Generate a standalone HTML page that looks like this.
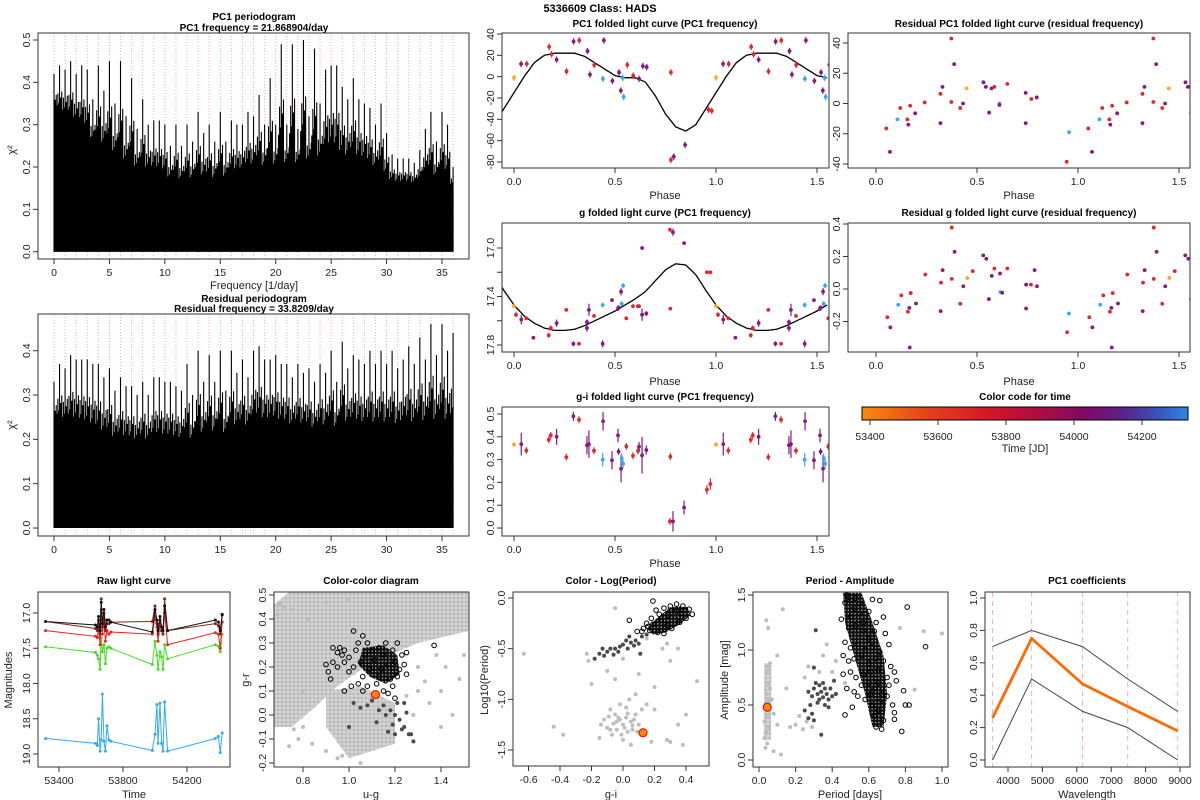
<!DOCTYPE html>
<html><head><meta charset="utf-8"><title>5336609 Class: HADS</title>
<style>
html,body{margin:0;padding:0;background:#fff;}
svg{display:block;font-family:"Liberation Sans",Arial,sans-serif;}
.t{font-weight:bold;font-size:10px;text-anchor:middle;fill:#000;}
.lab{font-size:11px;text-anchor:middle;fill:#222;}
.tk{font-size:10.5px;fill:#222;}
</style></head>
<body>
<svg id="chart" width="1200" height="800" viewBox="0 0 1200 800" xmlns="http://www.w3.org/2000/svg">
<defs>
<linearGradient id="tgrad" x1="0" x2="1" y1="0" y2="0">
<stop offset="0" stop-color="#f88a0c"/><stop offset="0.2" stop-color="#e5421a"/><stop offset="0.4" stop-color="#d21529"/>
<stop offset="0.55" stop-color="#ad0c45"/><stop offset="0.68" stop-color="#800a60"/><stop offset="0.8" stop-color="#5a2288"/>
<stop offset="0.9" stop-color="#3a50b8"/><stop offset="1" stop-color="#2a88e6"/>
</linearGradient>
<pattern id="grayDots" width="4" height="4" patternUnits="userSpaceOnUse"><rect width="4" height="4" fill="#d6d6d6"/><circle cx="2" cy="2" r="1.5" fill="#bababa"/></pattern>
<pattern id="blackCircles" width="3.4" height="3.4" patternUnits="userSpaceOnUse"><rect width="3.4" height="3.4" fill="#111"/><circle cx="1.7" cy="1.7" r="0.6" fill="#fff"/></pattern>
</defs>
<text x="600" y="12" class="t" style="font-size:11px">5336609    Class: HADS</text>
<text x="254" y="20" class="t">PC1 periodogram</text>
<text x="254" y="31" class="t">PC1 frequency = 21.868904/day</text>
<text x="254" y="289" class="lab">Frequency [1/day]</text>
<text x="15" y="150" class="lab" transform="rotate(-90 15 150)">χ²</text>
<text x="254" y="302" class="t">Residual periodogram</text>
<text x="254" y="312" class="t">Residual frequency = 33.8209/day</text>
<text x="15" y="425" class="lab" transform="rotate(-90 15 425)">χ²</text>
<text x="665" y="27" class="t">PC1 folded light curve (PC1 frequency)</text>
<text x="665" y="199" class="lab">Phase</text>
<text x="1019" y="27" class="t">Residual PC1 folded light curve (residual frequency)</text>
<text x="1019" y="199" class="lab">Phase</text>
<text x="665" y="216" class="t">g folded light curve (PC1 frequency)</text>
<text x="665" y="385" class="lab">Phase</text>
<text x="1019" y="216" class="t">Residual g folded light curve (residual frequency)</text>
<text x="1019" y="385" class="lab">Phase</text>
<text x="665" y="400" class="t">g-i folded light curve (PC1 frequency)</text>
<text x="665" y="567" class="lab">Phase</text>
<text x="1025" y="400" class="t">Color code for time</text>
<text x="1025" y="452" class="lab">Time [JD]</text>
<rect x="862" y="407" width="326" height="13" fill="url(#tgrad)" stroke="#000" stroke-width="1"/>
<text x="134" y="584" class="t">Raw light curve</text>
<text x="134" y="798" class="lab">Time</text>
<text x="12" y="680" class="lab" transform="rotate(-90 12 680)">Magnitudes</text>
<text x="371" y="584" class="t">Color-color diagram</text>
<text x="371" y="798" class="lab">u-g</text>
<text x="249" y="680" class="lab" transform="rotate(-90 249 680)">g-r</text>
<text x="611" y="584" class="t">Color - Log(Period)</text>
<text x="611" y="798" class="lab">g-i</text>
<text x="488" y="680" class="lab" transform="rotate(-90 488 680)">Log10(Period)</text>
<text x="850" y="584" class="t">Period - Amplitude</text>
<text x="850" y="798" class="lab">Period [days]</text>
<text x="728" y="680" class="lab" transform="rotate(-90 728 680)">Amplitude [mag]</text>
<text x="1087" y="584" class="t">PC1 coefficients</text>
<text x="1087" y="798" class="lab">Wavelength</text>
</svg>
<script>
// ---------- data ----------
const pc1PeakFreqStep = 0.5;
const pc1Peaks = [0.42,0.44,0.43,0.45,0.42,0.44,0.43,0.36,0.44,0.38,0.45,0.35,0.45,0.32,0.41,0.29,0.36,0.30,0.31,0.31,0.30,0.25,0.30,0.25,0.30,0.26,0.33,0.28,0.30,0.26,0.33,0.26,0.31,0.30,0.30,0.33,0.32,0.37,0.30,0.41,0.30,0.49,0.30,0.49,0.29,0.50,0.32,0.48,0.35,0.43,0.44,0.44,0.39,0.36,0.41,0.36,0.35,0.34,0.30,0.35,0.28,0.23,0.22,0.22,0.22,0.21,0.24,0.29,0.33,0.26,0.33,0.30,0.20];
const pc1Floor = [0.30,0.26,0.20,0.17,0.15,0.14,0.13,0.13,0.14,0.15,0.16,0.17,0.16,0.16,0.16,0.14,0.14,0.14,0.14];
const resPeaks = [0.33,0.37,0.36,0.39,0.38,0.38,0.38,0.37,0.37,0.34,0.36,0.31,0.34,0.32,0.32,0.30,0.33,0.30,0.34,0.34,0.33,0.33,0.32,0.31,0.37,0.30,0.40,0.33,0.39,0.33,0.40,0.31,0.40,0.35,0.38,0.34,0.40,0.41,0.38,0.38,0.39,0.37,0.37,0.34,0.37,0.35,0.36,0.33,0.37,0.35,0.40,0.33,0.42,0.36,0.39,0.38,0.37,0.40,0.37,0.40,0.37,0.40,0.36,0.38,0.41,0.37,0.43,0.38,0.46,0.39,0.46,0.40,0.44];
const resFloor = [0.20,0.18,0.16,0.15,0.15,0.15,0.15,0.16,0.17,0.18,0.18,0.18,0.17,0.18,0.17,0.17,0.17,0.17,0.16];
const freqTicks = [0,5,10,15,20,25,30,35];
const chiTicks1 = [0,0.1,0.2,0.3,0.4,0.5];
const chiTicks2 = [0,0.1,0.2,0.3,0.4];

const phaseTicks = [0,0.5,1.0,1.5];
const pc1Curve = [-15,0,13,20,22,22,22,19,13,7,1,-1,-1,-5,-18,-35,-47,-51,-45,-30,-15];
const pc1Phase = [0,0.035,0.063,0.174,0.186,0.211,0.26,0.295,0.323,0.364,0.376,0.397,0.44,0.445,0.487,0.52,0.529,0.538,0.543,0.561,0.59,0.619,0.638,0.657,0.777,0.777,0.791,0.847,0.963,0.979];
const pc1Val = [-1,12,12,28,21,16,5,33,34,24,2,11,-2,34,-4,4,-13,-1,-19,11,1,-2,10,9,4,-78,-75,-64,-31,-32];
const pc1Col = ['o','p','r','r','r','p','r','p','r','p','p','r','b','p','p','p','p','b','b','r','r','p','p','p','r','r','p','p','r','r'];
const pc1Ticks = [-80,-60,-40,-20,0,20,40];

const rpPhase = [0.051,0.069,0.106,0.12,0.155,0.16,0.169,0.194,0.241,0.319,0.319,0.329,0.373,0.373,0.387,0.417,0.431,0.449,0.532,0.544,0.56,0.572,0.586,0.611,0.611,0.65,0.741,0.741,0.769,0.796,0.944,0.956];
const rpVal = [-16.5,-32,-10.5,-3,-10.5,-14,-1.5,-6.5,0.7,6.4,-13,11,43,1,26,-3,0,10,14,11,-6,10,11,0,-1,13,7,-13,3,4,-38.5,-19];
const rpCol = ['r','p','b','r','r','p','r','p','r','r','p','p','r','r','p','r','p','o','p','p','p','p','r','b','p','r','p','p','r','p','r','b'];
const rpTicks = [-40,-20,0,20,40];

const gCurve = [17.47,17.56,17.62,17.66,17.68,17.68,17.67,17.64,17.6,17.56,17.52,17.47,17.42,17.36,17.27,17.18,17.13,17.14,17.22,17.35,17.47];
const gPhase = [0,0.01,0.036,0.061,0.096,0.172,0.182,0.211,0.259,0.294,0.322,0.361,0.361,0.371,0.396,0.439,0.439,0.485,0.515,0.518,0.53,0.533,0.54,0.556,0.589,0.614,0.619,0.634,0.634,0.655,0.774,0.772,0.787,0.842,0.955,0.972];
const gMag = [17.48,17.55,17.59,17.58,17.74,17.72,17.66,17.62,17.51,17.79,17.79,17.61,17.66,17.51,17.56,17.47,17.79,17.43,17.5,17.49,17.36,17.46,17.31,17.58,17.48,17.48,17.48,17.0,17.55,17.54,17.5,16.85,16.87,16.96,17.2,17.2];
const gErr = [0.01,0.02,0.04,0.01,0.01,0.02,0.02,0.03,0.01,0.02,0.01,0.02,0.03,0.05,0.01,0.02,0.03,0.01,0.02,0.01,0.03,0.02,0.02,0.01,0.01,0.01,0.01,0.01,0.05,0.02,0.01,0.01,0.03,0.01,0.01,0.01];
const gCol = ['o','r','p','r','p','r','r','p','r','p','r','p','p','p','r','b','p','p','p','p','p','b','b','r','r','p','r','p','p','p','r','r','p','p','r','r'];
const gTicks = [17.0,17.2,17.4,17.6,17.8];
const gTickLabels = ['17.0','','17.4','','17.8'];

const rgPhase = [0.056,0.071,0.11,0.125,0.158,0.165,0.167,0.172,0.198,0.244,0.32,0.322,0.33,0.375,0.375,0.389,0.417,0.432,0.452,0.479,0.531,0.546,0.559,0.573,0.586,0.614,0.616,0.625,0.65,0.743,0.743,0.767,0.785,0.797,0.946,0.955];
const rgVal = [-0.174,-0.236,-0.097,-0.039,-0.14,-0.116,-0.36,-0.025,-0.089,0.089,-0.136,0.039,0.116,0.378,0.062,0.229,-0.091,0.017,0.068,0.11,0.207,0.186,-0.062,0.081,0.126,0.095,-0.019,-0.023,0.126,0.027,-0.12,0.027,0.116,0.017,-0.266,-0.151];
const rgCol = ['r','p','b','r','r','p','p','r','p','r','p','r','p','r','r','p','r','p','o','r','p','p','p','p','r','p','b','p','r','p','p','r','p','p','r','b'];
const rgTicks = [-0.2,0,0.2,0.4];

const giPhase = [0,0.036,0.061,0.172,0.182,0.211,0.259,0.294,0.322,0.361,0.371,0.396,0.439,0.441,0.485,0.515,0.518,0.53,0.533,0.54,0.556,0.589,0.614,0.619,0.634,0.655,0.774,0.772,0.787,0.842,0.955,0.972];
const giVal = [0.366,0.368,0.34,0.387,0.406,0.4,0.311,0.49,0.475,0.363,0.368,0.339,0.3,0.468,0.297,0.406,0.335,0.26,0.307,0.282,0.358,0.317,0.338,0.357,0.319,0.342,0.313,0.029,0.029,0.09,0.168,0.193];
const giErr = [0.01,0.05,0.015,0.015,0.015,0.035,0.015,0.02,0.015,0.04,0.06,0.015,0.03,0.04,0.04,0.03,0.015,0.06,0.02,0.02,0.015,0.015,0.015,0.02,0.08,0.02,0.015,0.015,0.045,0.03,0.02,0.025];
const giCol = ['o','p','r','r','r','p','r','p','r','p','p','r','b','p','p','p','p','p','b','b','r','r','r','p','p','p','r','r','p','p','r','r'];
const giTicks = [0,0.1,0.2,0.3,0.4,0.5];

const cbTicks = [53400,53600,53800,54000,54200];

const rawTime = [53316,53628,53640,53647,53657,53664,53671,53681,53690,53700,53712,53724,53983,54000,54012,54019,54031,54041,54050,54060,54079,54377,54396,54408,54420];
const rawU = [18.78,18.85,18.88,18.5,18.96,18.8,18.15,18.82,18.96,18.6,18.8,18.82,18.95,18.72,18.3,18.85,18.28,18.85,18.96,18.26,18.96,18.78,18.75,18.98,18.7];
const rawG = [17.48,17.56,17.6,17.65,17.8,17.35,17.55,17.45,17.72,17.5,17.48,17.5,17.73,17.4,17.6,17.8,17.55,17.62,17.8,17.45,17.65,17.45,17.47,17.55,17.3];
const rawR = [17.25,17.33,17.35,17.2,17.45,16.95,17.3,17.1,17.4,17.25,17.3,17.27,17.3,17.05,17.2,17.4,17.15,17.25,17.3,17.0,17.45,17.28,17.3,17.5,17.13];
const rawI = [17.12,17.17,17.2,17.05,17.25,16.85,17.15,16.95,17.2,17.1,17.1,17.13,17.27,16.95,17.1,17.25,17.05,17.2,17.25,16.9,17.25,17.1,17.13,17.25,17.02];
const rawZ = [17.12,17.22,17.25,17.1,17.3,16.8,17.2,17.0,17.25,17.15,17.15,17.13,17.12,16.9,17.15,17.3,17.1,17.25,17.3,16.8,17.25,17.15,17.18,17.3,17.03];
const rawXTicks = [53400,53800,54200];
const rawYTicks = [17.0,17.5,18.0,18.5,19.0];

const ccBand = [[0.66,-0.05],[0.66,0.45],[0.75,0.52],[1.52,0.56],[1.52,0.35],[1.3,0.3],[1.1,0.22],[0.95,0.12],[0.85,0.03],[0.75,-0.05]];
const ccLowCloud = [[0.9,0.1],[1.05,0.12],[1.2,0.05],[1.2,-0.12],[1.0,-0.18],[0.9,-0.05]];
const ccCore = [[1.06,0.28],[1.15,0.29],[1.21,0.25],[1.22,0.17],[1.16,0.13],[1.09,0.16],[1.04,0.21]];
const ccGray = [[0.7,0.46],[0.72,0.45],[0.75,0.44],[0.69,0.42],[0.8,-0.05],[0.78,-0.1],[0.74,-0.13],[0.84,-0.12],[0.9,-0.15],[0.95,-0.18],[0.97,-0.17],[1.3,0.1],[1.35,0.05],[1.4,0.1],[1.45,0.0],[1.48,0.15],[1.42,0.2],[1.38,0.25],[1.5,0.25],[1.3,0.2],[1.33,0.14],[1.05,-0.2],[0.8,0.1],[1.28,0.0],[1.4,-0.05],[0.82,0.4],[0.9,0.47],[1.0,0.48],[0.76,-0.06],[1.25,0.08]];
const ccBlack = [[1.02,0.35],[1.06,0.33],[0.96,0.28],[0.98,0.27],[0.93,0.28],[0.95,0.26],[0.97,0.25],[0.9,0.21],[0.91,0.18],[0.93,0.22],[0.92,0.15],[0.95,0.2],[0.98,0.22],[1.0,0.24],[1.0,0.18],[1.02,0.2],[1.03,0.27],[1.04,0.3],[1.05,0.22],[1.06,0.16],[1.07,0.25],[1.08,0.3],[1.09,0.19],[1.1,0.27],[1.11,0.23],[1.12,0.13],[1.13,0.28],[1.14,0.19],[1.15,0.25],[1.16,0.3],[1.17,0.21],[1.18,0.15],[1.19,0.27],[1.2,0.22],[1.21,0.3],[1.22,0.19],[1.23,0.25],[1.24,0.21],[1.25,0.26],[1.21,0.16],[1.19,0.12],[1.15,0.1],[1.13,0.16],[1.08,0.12],[1.04,0.13],[1.37,0.29],[1.01,0.12],[1.17,0.09],[1.2,0.07],[0.98,0.1],[1.25,0.17],[1.06,0.1]];
const ccDark = [[1.1,0.06],[1.15,0.04],[1.18,0.02],[1.2,0.0],[1.22,-0.02],[1.24,-0.05],[1.26,-0.08],[1.23,-0.06],[1.19,-0.04],[1.16,0.0],[1.13,0.02],[1.08,0.04],[1.05,0.03],[1.28,-0.11],[1.25,0.01],[1.21,0.05],[1.12,-0.03],[1.17,-0.07],[1.24,0.05],[1.02,0.05],[1.0,-0.05],[1.27,-0.08],[1.2,-0.08]];
const ccStar = [1.115,0.085];
const ccXTicks = [0.8,1.0,1.2,1.4];
const ccYTicks = [-0.2,-0.1,0,0.1,0.2,0.3,0.4,0.5];

const clCore = [[0.15,-0.3],[0.2,-0.22],[0.27,-0.13],[0.33,-0.08],[0.41,-0.09],[0.43,-0.17],[0.36,-0.26],[0.27,-0.34],[0.19,-0.36]];
const clBlack = [[0.19,-0.03],[0.04,-0.22],[0.09,-0.33],[0.15,-0.25],[0.13,-0.3],[0.18,-0.2],[0.21,-0.12],[0.23,-0.16],[0.26,-0.1],[0.3,-0.08],[0.34,-0.06],[0.38,-0.08],[0.42,-0.11],[0.44,-0.16],[0.4,-0.2],[0.36,-0.24],[0.31,-0.3],[0.26,-0.35],[0.22,-0.34],[0.17,-0.32],[0.12,-0.33],[0.19,-0.26],[0.24,-0.22],[0.29,-0.17],[0.34,-0.13],[0.37,-0.15],[0.28,-0.27],[0.3,-0.12],[0.16,-0.28]];
const clDark = [[-0.15,-0.55],[-0.12,-0.57],[-0.08,-0.5],[-0.1,-0.53],[-0.05,-0.5],[-0.02,-0.48],[0.0,-0.46],[0.03,-0.5],[0.05,-0.44],[0.08,-0.42],[0.1,-0.45],[0.12,-0.38],[0.15,-0.36],[-0.03,-0.53],[0.02,-0.42],[-0.18,-0.6],[0.07,-0.47],[0.04,-0.38],[-0.06,-0.56],[0.11,-0.55],[-0.13,-0.5]];
const clGray = [[-0.08,-1.1],[-0.05,-1.15],[-0.02,-1.2],[0.0,-1.25],[0.02,-1.18],[0.05,-1.22],[0.08,-1.15],[0.1,-1.25],[-0.1,-1.28],[-0.12,-1.2],[-0.04,-1.3],[0.03,-1.32],[0.06,-1.3],[-0.07,-1.35],[0.0,-1.4],[0.12,-1.1],[0.15,-1.05],[-0.02,-1.05],[0.04,-1.0],[0.08,-0.95],[0.02,-1.08],[-0.06,-1.24],[0.01,-1.28],[-0.14,-1.25],[-0.03,-1.18],[0.07,-1.2],[-0.09,-1.17],[0.09,-1.32],[-0.01,-1.35],[0.05,-1.45],[-0.15,-1.38],[0.2,-1.1],[0.18,-1.42],[0.28,-1.4],[0.3,-1.42],[0.35,-1.25],[0.4,-1.15],[0.47,-0.82],[-0.63,-0.55],[-0.44,-1.27],[-0.38,-1.35],[-0.23,-0.55],[-0.2,-0.85],[-0.22,-0.62],[-0.1,-0.72],[0.2,-0.88],[0.1,-0.75],[0.0,-0.6],[0.15,-0.4],[0.25,-0.5],[0.3,-0.62],[-0.05,-0.1],[0.28,-0.45],[0.35,-0.5],[0.38,-1.45],[-0.05,-0.8],[-0.04,-1.22],[0.03,-1.14],[-0.08,-1.3],[0.06,-1.26]];
const clStar = [0.127,-1.33];
const clXTicks = [-0.6,-0.4,-0.2,0,0.2,0.4];
const clYTicks = [0,-0.5,-1.0,-1.5];

const paCore = [[0.46,1.52],[0.56,1.52],[0.62,1.25],[0.68,0.95],[0.7,0.6],[0.68,0.3],[0.62,0.3],[0.58,0.6],[0.52,0.95],[0.47,1.25]];
const paStrip = [[0.025,0.18],[0.065,0.18],[0.068,0.88],[0.028,0.88]];
const paBlack = [[0.48,1.5],[0.5,1.45],[0.47,1.43],[0.53,1.47],[0.55,1.42],[0.62,1.46],[0.66,1.45],[0.81,1.39],[0.45,1.28],[0.5,1.3],[0.55,1.33],[0.6,1.35],[0.64,1.25],[0.68,1.3],[0.49,1.2],[0.53,1.22],[0.57,1.18],[0.63,1.17],[0.69,1.15],[0.71,1.05],[0.47,1.07],[0.5,1.02],[0.54,1.05],[0.58,1.0],[0.62,1.03],[0.66,0.98],[0.46,0.95],[0.49,0.9],[0.52,0.92],[0.56,0.95],[0.6,0.88],[0.64,0.92],[0.68,0.9],[0.72,0.85],[0.74,0.8],[0.46,0.78],[0.5,0.8],[0.53,0.75],[0.57,0.78],[0.61,0.8],[0.65,0.82],[0.7,0.75],[0.75,0.72],[0.48,0.65],[0.52,0.62],[0.56,0.68],[0.6,0.7],[0.63,0.65],[0.67,0.6],[0.71,0.68],[0.79,0.63],[0.54,0.58],[0.58,0.55],[0.62,0.5],[0.66,0.53],[0.7,0.58],[0.73,0.5],[0.8,0.5],[0.82,0.5],[0.51,0.48],[0.47,0.41],[0.63,0.4],[0.65,0.45],[0.68,0.36],[0.64,0.3],[0.67,0.28],[0.74,0.43],[0.74,0.37],[0.78,0.26],[0.91,1.03],[0.6,1.1],[0.57,1.25],[0.52,1.38],[0.61,0.6],[0.65,0.7]];
const paDark = [[0.27,0.62],[0.29,0.58],[0.3,0.65],[0.32,0.6],[0.33,0.55],[0.34,0.62],[0.35,0.57],[0.36,0.5],[0.37,0.6],[0.38,0.55],[0.39,0.65],[0.31,0.7],[0.28,0.5],[0.33,0.68],[0.36,0.65],[0.4,0.58],[0.29,0.42],[0.27,0.38],[0.3,0.36],[0.34,0.23],[0.31,1.18],[0.3,0.84],[0.41,0.72],[0.25,0.45],[0.32,0.52],[0.38,0.48],[0.35,0.7],[0.42,0.6]];
const paGray = [[0.03,0.2],[0.04,0.25],[0.05,0.3],[0.03,0.35],[0.045,0.4],[0.055,0.45],[0.035,0.5],[0.05,0.55],[0.04,0.6],[0.06,0.65],[0.05,0.7],[0.045,0.8],[0.05,0.85],[0.06,0.88],[0.045,0.15],[0.035,0.11],[0.04,1.27],[0.05,1.2],[0.1,0.95],[0.08,0.08],[0.12,0.05],[0.07,0.55],[0.08,0.42],[0.1,0.32],[0.13,1.37],[0.17,0.3],[0.2,0.32],[0.22,0.4],[0.25,0.75],[0.27,0.85],[0.35,0.95],[0.37,1.05],[0.42,0.9],[0.4,0.8],[0.26,0.35],[0.24,0.28],[0.9,1.17],[1.0,1.15],[0.77,1.2],[0.85,0.64],[0.15,0.65],[0.47,0.7],[0.33,0.8],[0.29,0.3]];
const paStar = [0.045,0.48];
const paXTicks = [0,0.2,0.4,0.6,0.8,1.0];
const paYTicks = [0,0.5,1.0,1.5];

const pcWave = [3551,4686,6166,7480,8932];
const pcUpper = [0.7,0.8,0.7,0.5,0.3];
const pcMain = [0.26,0.75,0.47,0.33,0.18];
const pcLower = [0.0,0.5,0.3,0.2,0.0];
const pcXTicks = [4000,5000,6000,7000,8000,9000];
const pcYTicks = [0,0.2,0.4,0.6,0.8,1.0];

// ---------- helpers ----------
const NS = 'http://www.w3.org/2000/svg';
const svg = document.getElementById('chart');
const COL = {o:'#ffa820', r:'#e3262d', p:'#86197a', b:'#3ca4f4'};
function lin(d0,d1,r0,r1){ return v => r0 + (v-d0)*(r1-r0)/(d1-d0); }
function mk(tag, attrs, parent){
  const e = document.createElementNS(NS, tag);
  for (const k in attrs) e.setAttribute(k, attrs[k]);
  (parent||svg).appendChild(e);
  return e;
}
function fmt(v, d){ return v.toFixed(d); }
function panel(name, b){
  const g = mk('g', {});
  
  
  return g;
}
function frame(g, b){
  const r = mk('rect', {x:b[0], y:b[1], width:b[2]-b[0], height:b[3]-b[1], fill:'none', stroke:'#333', 'stroke-width':1}, g);
  
  
}
function xAxis(g, b, ticks, labels, fx){
  ticks.forEach((t,i) => {
    const x = fx(t);
    const l = mk('line', {x1:x, x2:x, y1:b[3], y2:b[3]+5, stroke:'#333'}, g);
    
    
    const tx = mk('text', {x:x, y:b[3]+17, class:'tk', 'text-anchor':'middle'}, g);
    
    
    tx.textContent = labels[i];
  });
}
function yAxis(g, b, ticks, labels, fy){
  ticks.forEach((t,i) => {
    const y = fy(t);
    const l = mk('line', {x1:b[0]-5, x2:b[0], y1:y, y2:y, stroke:'#333'}, g);
    
    
    if (labels[i] === '') return;
    const xx = b[0]-8;
    const tx = mk('text', {x:xx, y:y, class:'tk', 'text-anchor':'middle', transform:'rotate(-90 '+xx+' '+y+')'}, g);
    
    
    tx.textContent = labels[i];
  });
}
function clipFor(id, b){
  const cp = mk('clipPath', {id:id});
  mk('rect', {x:b[0], y:b[1], width:b[2]-b[0], height:b[3]-b[1]}, cp);
  return 'url(#'+id+')';
}

// ---------- periodograms ----------
const spikePattern = [1,0.3,0.5,0.15,0.6,0.35,0.2,0.55,0.25,0.4];
function periodogram(name, b, peaks, floors, fy, yt){
  const g = panel(name, b);
  const fx = lin(0,35,54,442);
  for (let f=0; f<=36; f++){
    const l = mk('line', {x1:fx(f), x2:fx(f), y1:b[1], y2:b[3], stroke:'#f5a8b8', 'stroke-dasharray':'1,2', 'stroke-width':1}, g);
    
    
  }
  const floorAt = f => { const i=Math.min(Math.floor(f/2), floors.length-2); const t=f/2-i; return floors[i]*(1-t)+floors[i+1]*t; };
  let pts = [];
  for (let f=0; f<=36.001; f+=0.5) pts.push(fx(f)+','+fy(floorAt(f)));
  const poly = mk('polygon', {points: fx(0)+','+fy(0)+' '+pts.join(' ')+' '+fx(36)+','+fy(0), fill:'#000'}, g);
  
  
  let d = '';
  const n = Math.round(36/0.05);
  for (let i=0; i<=n; i++){
    const f = i*0.05;
    const pk = peaks[Math.min(peaks.length-1, Math.round(f/pc1PeakFreqStep))];
    const fl = floorAt(f);
    const h = fl + (pk-fl)*spikePattern[i%spikePattern.length];
    d += 'M'+fx(f).toFixed(2)+' '+fy(0)+'V'+fy(h).toFixed(2);
  }
  const p = mk('path', {d:d, stroke:'#000', 'stroke-width':1.1, fill:'none'}, g);
  
  
  frame(g,b);
  xAxis(g,b,freqTicks,freqTicks.map(String),fx);
  yAxis(g,b,yt,yt.map(v=>fmt(v,1)),fy);
}
periodogram('pc1-periodogram', [38,33,469,259], pc1Peaks, pc1Floor, lin(0,0.5,251.7,40), chiTicks1);
periodogram('residual-periodogram', [38,314,469,536], resPeaks, resFloor, lin(0,0.4,528,350.7), chiTicks2);

// ---------- folded curves ----------
function interpCurve(c, p){
  let q = p - Math.floor(p);
  const s = q/0.05; const i = Math.min(Math.floor(s), c.length-2); const t = s-i;
  return c[i]*(1-t)+c[i+1]*t;
}
function folded(name, b, fx, fy, phases, vals, errs, cols, curve, ticks, tickLabels, id){
  const g = panel(name, b);
  const cl = clipFor(id, b);
  const lo = (b[0]-fx(0))/(fx(1)-fx(0)), hi = (b[2]-fx(0))/(fx(1)-fx(0));
  if (curve){
    let d = '';
    for (let p=lo; p<=hi; p+=0.01) d += (d?'L':'M')+fx(p).toFixed(1)+' '+fy(interpCurve(curve,p)).toFixed(1);
    const c = mk('path', {d:d, fill:'none', stroke:'#000', 'stroke-width':1.3, 'clip-path':cl}, g);
    
    
  }
  phases.forEach((ph,i) => {
    [ph, ph+1].forEach(pp => {
      if (pp < lo-0.01 || pp > hi+0.01) return;
      const x = fx(pp), y = fy(vals[i]);
      if (errs){
        const e = mk('line', {x1:x, x2:x, y1:fy(vals[i]-errs[i]), y2:fy(vals[i]+errs[i]), stroke:COL[cols[i]], 'stroke-width':1.2, 'clip-path':cl}, g);
        
        
      }
      const c = mk('circle', {cx:x, cy:y, r:1.9, fill:COL[cols[i]], 'clip-path':cl}, g);
      
      
    });
  });
  frame(g,b);
  xAxis(g,b,phaseTicks,phaseTicks.map(v=>fmt(v,1)),fx);
  yAxis(g,b,ticks,tickLabels,fy);
}
const fxL = lin(0,1.5,514,817), fxR = lin(0,1.5,876,1179);
folded('pc1-folded-panel',[502,33,829,168],fxL,lin(40,-80,34,162),pc1Phase,pc1Val,pc1Val.map(()=>3),pc1Col,pc1Curve,pc1Ticks,pc1Ticks.map(String),'c1');
folded('residual-pc1-folded-panel',[848,33,1190,168],fxR,lin(40,-40,43,164),rpPhase,rpVal,null,rpCol,null,rpTicks,rpTicks.map(String),'c2');
folded('g-folded-panel',[502,223,829,352],fxL,lin(17,17.8,248,345),gPhase,gMag,gErr,gCol,gCurve,gTicks,gTickLabels,'c3');
folded('residual-g-folded-panel',[848,223,1190,352],fxR,lin(0,0.4,289,224),rgPhase,rgVal,null,rgCol,null,rgTicks,rgTicks.map(v=>fmt(v,1)),'c4');
folded('gi-folded-panel',[502,407,829,536],fxL,lin(0,0.5,528,414),giPhase,giVal,giErr,giCol,null,giTicks,giTicks.map(v=>fmt(v,1)),'c5');

// colorbar ticks
(function(){
  const g = panel('colorbar-axis',[862,407,1188,420]);
  const fx = lin(53400,54200,870,1142);
  cbTicks.forEach(t => {
    const l = mk('line',{x1:fx(t),x2:fx(t),y1:420,y2:425,stroke:'#333'},g);
    
    
    const tx = mk('text',{x:fx(t),y:440,class:'tk','text-anchor':'middle'},g);
    
    
    tx.textContent = String(t);
  });
})();

// ---------- raw light curve ----------
(function(){
  const b = [38,592,230,767];
  const g = panel('raw-light-curve-panel', b);
  const fx = lin(53400,54200,59,187), fy = lin(17,19,613,754);
  const series = [[rawU,'#33aaf5','u-band'],[rawG,'#44dd22','g-band'],[rawR,'#f02020','r-band'],[rawZ,'#7a2a1a','z-band'],[rawI,'#111','i-band']];
  series.forEach(s => {
    const pts = rawTime.map((t,i)=>fx(t).toFixed(1)+','+fy(s[0][i]).toFixed(1)).join(' ');
    const pl = mk('polyline',{points:pts,fill:'none',stroke:s[1],'stroke-width':1},g);
    
    
    rawTime.forEach((t,i)=>{
      const c = mk('circle',{cx:fx(t),cy:fy(s[0][i]),r:1.5,fill:s[1]},g);
      
      
    });
  });
  frame(g,b);
  xAxis(g,b,rawXTicks,rawXTicks.map(String),fx);
  yAxis(g,b,rawYTicks,rawYTicks.map(v=>fmt(v,1)),fy);
})();

// ---------- scatter panels ----------
function scatter(name, b, fx, fy, regions, gray, dark, core, black, star, xt, xl, yt, yl, id){
  const g = panel(name, b);
  const cl = clipFor(id, b);
  regions.forEach(r => {
    const p = mk('polygon',{points:r.map(q=>fx(q[0])+','+fy(q[1])).join(' '),fill:'url(#grayDots)','clip-path':cl},g);
    
    
  });
  gray.forEach(q => {
    const c = mk('circle',{cx:fx(q[0]),cy:fy(q[1]),r:2,fill:'#bdbdbd','clip-path':cl},g);
    
    
  });
  dark.forEach(q => {
    const c = mk('circle',{cx:fx(q[0]),cy:fy(q[1]),r:2,fill:'#4a4a4a','clip-path':cl},g);
    
    
  });
  if (core){
    const p = mk('polygon',{points:core.map(q=>fx(q[0])+','+fy(q[1])).join(' '),fill:'url(#blackCircles)','clip-path':cl},g);
    
    
  }
  black.forEach(q => {
    const c = mk('circle',{cx:fx(q[0]),cy:fy(q[1]),r:2.3,fill:'none',stroke:'#000','stroke-width':1,'clip-path':cl},g);
    
    
  });
  const s = mk('circle',{cx:fx(star[0]),cy:fy(star[1]),r:4,fill:'#ff8a00',stroke:'#e02020','stroke-width':1.3},g);
  
  
  frame(g,b);
  xAxis(g,b,xt,xl,fx);
  yAxis(g,b,yt,yl,fy);
}
scatter('color-color-panel',[274,592,469,767],lin(0.8,1.4,303,441),lin(0.5,-0.2,595,763),[ccBand,ccLowCloud],ccGray,ccDark,ccCore,ccBlack,ccStar,ccXTicks,ccXTicks.map(v=>fmt(v,1)),ccYTicks,ccYTicks.map(v=>fmt(v,1)),'s1');
scatter('color-logperiod-panel',[513,592,709,766],lin(0,0.4,623,686),lin(0,-1.5,598,750),[],clGray,clDark,clCore,clBlack,clStar,clXTicks,clXTicks.map(v=>fmt(v,1)),clYTicks,clYTicks.map(v=>fmt(v,1)),'s2');
scatter('period-amplitude-panel',[753,592,948,767],lin(0,1,759,942),lin(0,1.5,760,595),[paStrip],paGray,paDark,paCore,paBlack,paStar,paXTicks,paXTicks.map(v=>fmt(v,1)),paYTicks,paYTicks.map(v=>fmt(v,1)),'s3');

// ---------- PC1 coefficients ----------
(function(){
  const b = [985,592,1190,767];
  const g = panel('pc1-coefficients-panel', b);
  const fx = lin(4000,9000,1008,1180), fy = lin(0,1,760,598);
  pcWave.forEach(w => {
    const l = mk('line',{x1:fx(w),x2:fx(w),y1:b[1],y2:b[3],stroke:'#f5b0c0','stroke-dasharray':'5,4'},g);
    
    
  });
  [[pcUpper,'#444',1,'upper-bound-line'],[pcLower,'#444',1,'lower-bound-line'],[pcMain,'#ff6a00',2.8,'pc1-coefficient-line']].forEach(s => {
    const pl = mk('polyline',{points:pcWave.map((w,i)=>fx(w)+','+fy(s[0][i])).join(' '),fill:'none',stroke:s[1],'stroke-width':s[2]},g);
    
    
  });
  frame(g,b);
  xAxis(g,b,pcXTicks,pcXTicks.map(String),fx);
  yAxis(g,b,pcYTicks,pcYTicks.map(v=>fmt(v,1)),fy);
})();
</script>
</body></html>
